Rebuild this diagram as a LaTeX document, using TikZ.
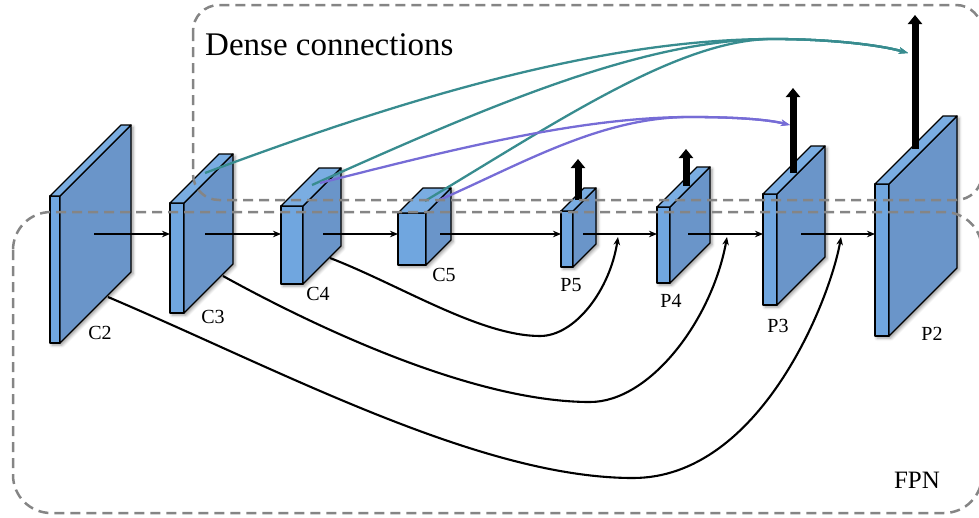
\documentclass[tikz,border=0pt]{standalone}
\usepackage{fontspec}
\setmainfont{Liberation Serif}
\usetikzlibrary{arrows.meta,calc,shadows.blur}

\definecolor{frontblue}{HTML}{70A6DF}
\definecolor{topblue}{HTML}{7AADE2}
\definecolor{sideblue}{HTML}{6A95C9}
\definecolor{denseteal}{RGB}{56,140,143}
\definecolor{densepurple}{RGB}{118,108,214}
\definecolor{boxgray}{HTML}{858585}

\tikzset{
  face/.style={draw=black, line width=1.3pt, line join=round},
  frontface/.style={face, fill=frontblue, rectangle, inner sep=0pt, outer sep=0pt},
  slabshadow/.style={blur shadow={shadow xshift=2pt, shadow yshift=-2pt,
      shadow blur radius=3pt, shadow opacity=40}},
  lbl/.style={font=\fontsize{20}{20}\selectfont, inner sep=0pt},
  flow/.style={draw=black, line width=2pt, -{Stealth[length=8pt,width=6.5pt,inset=2.5pt]}},
  lateral/.style={draw=black, line width=2.1pt, -{Stealth[length=8pt,width=6.5pt,inset=2.5pt]}},
  outarrow/.style={draw=black, line width=7pt, -{Triangle[length=9pt,width=14pt]}},
  denseA/.style={draw=denseteal, line width=2.3pt, -{Stealth[length=9pt,width=6.5pt,inset=2.5pt]}},
  denseB/.style={draw=densepurple, line width=2.3pt, -{Stealth[length=9pt,width=6.5pt,inset=2.5pt]}},
  groupbox/.style={draw=boxgray, line width=2.5pt, dash pattern=on 10pt off 6pt},
}

% a feature-map slab: name, front-left x, front-top y, front width, height, depth
\newcommand\featslab[6]{%
  \path[slabshadow] (#2,#3) -- ++(#6,-#6) -- ++(#4,0) -- ++(0,#5)
      -- ++(-#6,#6) -- ++(-#4,0) -- cycle;
  \node[frontface, minimum width=#4pt, minimum height=#5pt, anchor=north west] (#1) at (#2,#3) {};
  \filldraw[face, fill=sideblue] (#1.north east) -- ++(#6,-#6) -- ++(0,#5) -- (#1.south east) -- cycle;
  \filldraw[face, fill=topblue] (#1.north west) -- ++(#6,-#6) -- ++(#4,0) -- (#1.north east) -- cycle;
}

\begin{document}
\begin{tikzpicture}[x=1pt, y=-1pt]
\useasboundingbox (0,0) rectangle (979,517);

% backbone and pyramid feature maps
\featslab{c2}{50}{196}{10}{147}{71}
\featslab{c3}{170}{203}{14}{110}{49}
\featslab{c4}{281}{206}{22}{78}{38}
\featslab{c5}{398}{213}{28}{52}{25}
\featslab{p5}{561}{211}{12}{56}{23}
\featslab{p4}{657}{207}{13}{76}{40}
\featslab{p3}{763}{194}{14}{111}{48}
\featslab{p2}{875}{184}{14}{152}{68}

% arrow start points inside the slabs
\coordinate (c2o) at (94,234);
\coordinate (c3o) at (205,234);
\coordinate (c4o) at (323,234);
\coordinate (c5o) at (440,234);
\coordinate (p5o) at (583,234);
\coordinate (p4o) at (688,234);
\coordinate (p3o) at (801,234);

% top-down pathway
\draw[flow] (c2o) -- (c3.west |- c2o);
\draw[flow] (c3o) -- (c4.west |- c3o);
\draw[flow] (c4o) -- (c5.west |- c4o);
\draw[flow] (c5o) -- (p5.west |- c5o);
\draw[flow] (p5o) -- (p4.west |- p5o);
\draw[flow] (p4o) -- (p3.west |- p4o);
\draw[flow] (p3o) -- (p2.west |- p3o);

% lateral connections
\coordinate (c4s) at (330,258);
\coordinate (c3s) at (223,276);
\coordinate (c2s) at (108,297);
\coordinate (m5) at (618,237);
\coordinate (m4) at (727,237);
\coordinate (m3) at (841,237);
\draw[lateral] (c4s) .. controls (400,285) and (480,336) .. (540,336)
               .. controls (575,336) and (610,290) .. (m5);
\draw[lateral] (c3s) .. controls (330,335) and (480,402) .. (590,402)
               .. controls (650,402) and (712,320) .. (m4);
\draw[lateral] (c2s) .. controls (280,370) and (480,478) .. (633,478)
               .. controls (760,478) and (830,300) .. (m3);

% prediction outputs
\coordinate (p5b) at (578,200); \coordinate (p5t) at (578,159);
\coordinate (p4b) at (686,186); \coordinate (p4t) at (686,149);
\coordinate (p3b) at (793,173); \coordinate (p3t) at (793,88);
\coordinate (p2b) at (915,149); \coordinate (p2t) at (915,15);
\draw[outarrow] (p5b) -- (p5t);
\draw[outarrow] (p4b) -- (p4t);
\draw[outarrow] (p3b) -- (p3t);
\draw[outarrow] (p2b) -- (p2t);

% dense connections
\coordinate (c3d) at (205,173);
\coordinate (c4d) at (312,185);
\coordinate (c4e) at (320,183);
\coordinate (c5d) at (425,201);
\coordinate (c5e) at (437,201);
\coordinate (tj) at (773,39);
\coordinate (pj) at (690,117);
\coordinate (p2in) at (908,53);
\coordinate (p3in) at (790,125);
\draw[denseA] (c3d) .. controls (400,100) and (600,39) .. (tj)
              .. controls (830,39) and (880,45) .. (p2in);
\draw[denseA] (c4d) .. controls (480,110) and (640,39) .. (tj)
              .. controls (830,39) and (880,45) .. (p2in);
\draw[denseA] (c5d) .. controls (560,120) and (680,39) .. (tj)
              .. controls (830,39) and (880,45) .. (p2in);
\draw[denseB] (c4e) .. controls (450,150) and (580,117) .. (pj)
              .. controls (740,117) and (770,120) .. (p3in);
\draw[denseB] (c5e) .. controls (520,165) and (600,117) .. (pj)
              .. controls (740,117) and (770,120) .. (p3in);

% grouping frames
\draw[groupbox, rounded corners=26pt] (193,5) rectangle (982,200);
\draw[groupbox, rounded corners=38pt] (13,212) rectangle (982,513);

% labels
\node[lbl] (c2l) at (100,333) {C2};
\node[lbl] (c3l) at (213,317) {C3};
\node[lbl] (c4l) at (318,294) {C4};
\node[lbl] (c5l) at (444,275) {C5};
\node[lbl] (p5l) at (571,285) {P5};
\node[lbl] (p4l) at (671,301) {P4};
\node[lbl] (p3l) at (778,326) {P3};
\node[lbl] (p2l) at (932,334) {P2};
\node[anchor=base west, inner sep=0pt, font=\fontsize{33}{33}\selectfont] (dense) at (205,55) {Dense connections};
\node[inner sep=0pt, font=\fontsize{25}{25}\selectfont] (fpn) at (917,480) {FPN};
\end{tikzpicture}
\end{document}
